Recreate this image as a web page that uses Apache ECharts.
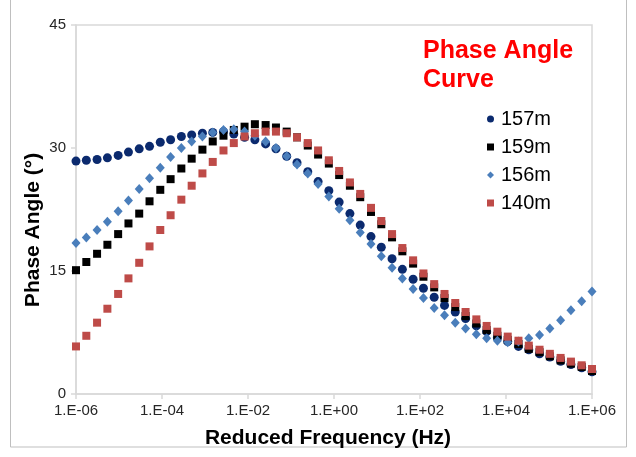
<!DOCTYPE html>
<html>
<head>
<meta charset="utf-8">
<script src="https://cdn.jsdelivr.net/npm/echarts@6/dist/echarts.min.js"></script>
<style>
html,body{margin:0;padding:0;background:#fff;}
#chart{width:636px;height:457px;}
</style>
</head>
<body>
<div id="chart"></div>
<script>
// log10 of reduced frequency (Hz)
var logFreq = [-6.00,-5.76,-5.51,-5.27,-5.02,-4.78,-4.53,-4.29,-4.04,-3.80,
  -3.55,-3.31,-3.06,-2.82,-2.57,-2.33,-2.08,-1.84,-1.59,-1.35,
  -1.10,-0.86,-0.61,-0.37,-0.12,0.12,0.37,0.61,0.86,1.10,
  1.35,1.59,1.84,2.08,2.33,2.57,2.82,3.06,3.31,3.55,
  3.80,4.04,4.29,4.53,4.78,5.02,5.27,5.51,5.76,6.00];

var s157 = [28.4,28.5,28.6,28.8,29.1,29.5,29.9,30.2,30.7,31.0,
  31.4,31.6,31.8,31.9,32.0,31.7,31.3,31.0,30.5,29.9,
  29.0,28.2,27.1,25.9,24.8,23.4,22.0,20.6,19.2,17.9,
  16.5,15.2,14.0,12.9,11.8,10.8,10.0,9.2,8.3,7.6,
  6.9,6.4,5.8,5.4,4.9,4.5,4.0,3.6,3.2,2.7];

var s159 = [15.1,16.1,17.1,18.2,19.5,20.8,22.0,23.5,24.9,26.2,
  27.5,28.7,29.8,30.8,31.5,32.2,32.6,32.9,32.8,32.5,
  32.0,31.3,30.3,29.2,28.1,26.7,25.4,24.0,22.2,20.7,
  19.1,17.4,15.9,14.3,13.0,11.7,10.6,9.5,8.6,7.8,
  7.1,6.6,6.1,5.5,5.1,4.6,4.1,3.7,3.3,2.8];

var s156 = [18.4,19.1,20.0,21.0,22.3,23.6,25.0,26.3,27.6,28.9,
  30.0,30.8,31.4,31.9,32.2,32.3,32.0,31.5,30.8,30.0,
  29.0,28.0,26.9,25.6,24.1,22.6,21.2,19.7,18.3,16.8,
  15.4,14.1,12.8,11.7,10.5,9.6,8.7,8.0,7.3,6.8,
  6.5,6.3,6.4,6.8,7.2,8.0,9.0,10.2,11.3,12.5];

var s140 = [5.8,7.1,8.7,10.4,12.2,14.1,16.0,18.0,20.0,21.8,
  23.7,25.4,26.9,28.3,29.7,30.6,31.4,31.8,32.0,32.0,
  31.8,31.3,30.6,29.7,28.5,27.2,25.8,24.4,22.7,21.1,
  19.5,17.8,16.3,14.7,13.4,12.2,11.1,10.0,9.1,8.3,
  7.6,7.0,6.5,5.9,5.4,4.9,4.4,3.95,3.5,3.05];

var seriesNames = ['157m','159m','156m','140m'];
var yTicks = [0,15,30,45];

function pairs(vals){
  return vals.map(function(v,i){ return [logFreq[i], v]; });
}
function fmtX(v){
  var a = Math.abs(Math.round(v));
  return '1.E' + (v < 0 ? '-' : '+') + (a < 10 ? '0' : '') + a;
}

var FONT = '"Liberation Sans", Arial, sans-serif';
var chart = echarts.init(document.getElementById('chart'), null, {renderer:'canvas'});
chart.setOption({
  backgroundColor:'#ffffff',
  animation:false,
  title:{
    text:'Phase Angle\nCurve',
    left:418, top:32,
    textStyle:{color:'#ff0000', fontSize:25, fontWeight:'bold', fontFamily:FONT, lineHeight:29}
  },
  legend:{
    orient:'vertical',
    left:482, top:104,
    itemWidth:7, itemHeight:7,
    itemGap:8,
    data:[
      {name:'157m', icon:'circle'},
      {name:'159m', icon:'rect'},
      {name:'156m', icon:'diamond'},
      {name:'140m', icon:'rect'}
    ],
    textStyle:{color:'#000', fontSize:20, fontFamily:FONT, lineHeight:20, padding:[0,0,0,2]}
  },
  grid:{left:76, right:44, top:25, bottom:63, show:true, borderColor:'#d9d9d9', borderWidth:1.5, containLabel:false},
  xAxis:{
    type:'value', min:-6, max:6, interval:2,
    axisLine:{show:true, onZero:false, lineStyle:{color:'#d9d9d9', width:1.5}},
    axisTick:{show:true, length:5, lineStyle:{color:'#d9d9d9', width:1.5}},
    splitLine:{show:false},
    axisLabel:{formatter:fmtX, color:'#262626', fontSize:15, fontFamily:FONT, margin:9}
  },
  yAxis:{
    type:'value', min:0, max:45, interval:15,
    axisLine:{show:true, onZero:false, lineStyle:{color:'#d9d9d9', width:1.5}},
    axisTick:{show:true, length:5, lineStyle:{color:'#d9d9d9', width:1.5}},
    splitLine:{show:false},
    axisLabel:{color:'#262626', fontSize:15, fontFamily:FONT, margin:10}
  },
  graphic:[
    {type:'rect', shape:{x:10.5, y:-1, width:616, height:448}, style:{fill:'none', stroke:'#bfbfbf', lineWidth:1}, silent:true, z:-10},
    {type:'text', x:33, y:230, rotation:Math.PI/2, style:{text:'Phase Angle (°)', fill:'#000', font:'bold 21px '+FONT, textAlign:'center', textVerticalAlign:'middle'}},
    {type:'text', x:328, y:438, style:{text:'Reduced Frequency (Hz)', fill:'#000', font:'bold 21px '+FONT, textAlign:'center', textVerticalAlign:'middle'}}
  ],
  series:[
    {name:'157m', type:'scatter', symbol:'circle', symbolSize:9, itemStyle:{color:'#0b2a6e', opacity:1}, data:pairs(s157)},
    {name:'159m', type:'scatter', symbol:'rect', symbolSize:8, itemStyle:{color:'#000000', opacity:1}, data:pairs(s159)},
    {name:'156m', type:'scatter', symbol:'diamond', symbolSize:[9,10], itemStyle:{color:'#4a7ebb', opacity:1}, data:pairs(s156)},
    {name:'140m', type:'scatter', symbol:'rect', symbolSize:8, itemStyle:{color:'#be4b48', opacity:1}, data:pairs(s140)}
  ]
});
</script>
</body>
</html>
